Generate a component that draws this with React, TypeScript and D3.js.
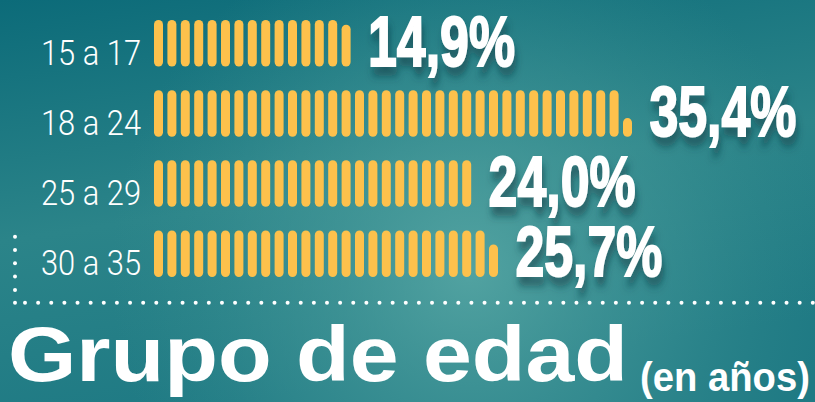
import React from "react";
import * as d3 from "d3";

// age groups and their share (%)
const groups = ["15 a 17", "18 a 24", "25 a 29", "30 a 35"];
const shares = [14.9, 35.4, 24.0, 25.7];
const shareLabels = ["14,9%", "35,4%", "24,0%", "25,7%"];
const title = "Grupo de edad";
const subtitle = "(en años)";

const W = 815;
const H = 402;

const App = () => {
  const x = d3.scaleLinear().domain([0, 40]).range([154, 154 + 40 * 13.4]);
  const y = d3.scaleBand<string>().domain(groups).range([20, 277]).paddingInner(0.336);
  const pillW = 9;
  const bh = y.bandwidth();

  const rows = groups.map((g, gi) => {
    const v = shares[gi];
    const full = Math.floor(v);
    const frac = v - full;
    const pills = d3.range(full).map((i) => ({ i, h: bh }));
    if (frac > 0.05) pills.push({ i: full, h: Math.max(pillW, bh * frac) });
    return { g, gi, v, pills, end: x(Math.ceil(v)) };
  });

  // dotted frame
  const hDots = d3.range(25, W, 13.13);
  const vDots = d3.range(236.7, 300, 13.3);

  return (
    <svg
      width={W}
      height={H}
      style={{ position: "fixed", left: 0, top: 0, display: "block" }}
    >
      <defs>
        <linearGradient id="bg" x1="0" y1="0" x2="0.3" y2="1">
          <stop offset="0" stopColor="#0c6b79" />
          <stop offset="0.55" stopColor="#2b8489" />
          <stop offset="1" stopColor="#1f7a84" />
        </linearGradient>
        <radialGradient id="glow" cx="470" cy="270" r="360" gradientUnits="userSpaceOnUse">
          <stop offset="0" stopColor="#5aa9a6" stopOpacity="0.85" />
          <stop offset="0.6" stopColor="#4a9c9b" stopOpacity="0.35" />
          <stop offset="1" stopColor="#3a9090" stopOpacity="0" />
        </radialGradient>
        <filter id="shadow" x="-20%" y="-20%" width="140%" height="170%">
          <feDropShadow dx="2" dy="6" stdDeviation="3" floodColor="#0b3d44" floodOpacity="0.6" />
        </filter>
      </defs>

      <rect width={W} height={H} fill="url(#bg)" />
      <rect width={W} height={H} fill="url(#glow)" />

      {rows.map((r) => (
        <g key={r.g}>
          <text
            x={141}
            y={(y(r.g) as number) + bh - 2}
            textAnchor="end"
            fill="#fff"
            fontFamily="Roboto, 'Open Sans', sans-serif"
            fontWeight={300}
            fontSize={35}
            textLength={100}
            lengthAdjust="spacingAndGlyphs"
          >
            {r.g}
          </text>
          {r.pills.map((p) => (
            <rect
              key={p.i}
              x={x(p.i)}
              y={(y(r.g) as number) + bh - p.h}
              width={pillW}
              height={p.h}
              rx={pillW / 2}
              fill="#fdc14c"
            />
          ))}
          <g
            transform={`translate(${r.end + 13},${(y(r.g) as number) + bh - 1}) scale(1,1.46)`}
            filter="url(#shadow)"
          >
            <text
              x={0}
              y={0}
              fill="#fff"
              stroke="#fff"
              strokeWidth={1.3}
              fontFamily="'Liberation Sans', Arial, sans-serif"
              fontWeight={700}
              fontSize={48}
              textLength={147}
              lengthAdjust="spacingAndGlyphs"
            >
              {shareLabels[r.gi]}
            </text>
          </g>
        </g>
      ))}

      {vDots.map((d) => (
        <circle key={"v" + d} cx={15} cy={d} r={2} fill="#fff" />
      ))}
      <circle cx={15} cy={302.7} r={2} fill="#fff" />
      {hDots.map((d) => (
        <circle key={"h" + d} cx={d} cy={302.7} r={2} fill="#fff" />
      ))}

      <text
        x={8}
        y={381}
        fill="#fff"
        fontFamily="'Liberation Sans', Arial, sans-serif"
        fontWeight={700}
        fontSize={78}
        textLength={620}
        lengthAdjust="spacingAndGlyphs"
      >
        {title}
      </text>
      <g transform="translate(640,391) scale(1,1.08)">
        <text
          x={0}
          y={0}
          fill="#fff"
          fontFamily="'Liberation Sans', Arial, sans-serif"
          fontWeight={700}
          fontSize={37}
          textLength={170}
          lengthAdjust="spacingAndGlyphs"
        >
          {subtitle}
        </text>
      </g>
    </svg>
  );
};

export default App;
